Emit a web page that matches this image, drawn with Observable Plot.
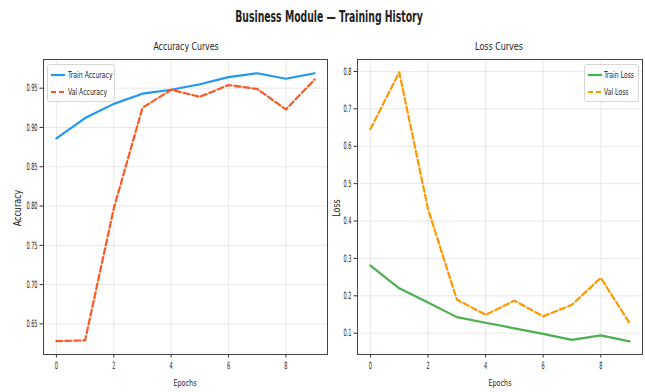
<!DOCTYPE html>
<html>
<head>
<meta charset="utf-8">
<script src="https://cdn.jsdelivr.net/npm/d3@7"></script>
<script src="https://cdn.jsdelivr.net/npm/@observablehq/plot@0.6"></script>
<style>
  html, body { margin: 0; padding: 0; background: #fff; }
  #fig { position: relative; width: 645px; height: 392px; overflow: hidden; font-family: "DejaVu Sans", sans-serif; color: #222; }
  .abs { position: absolute; white-space: nowrap; }
  .sq { display: inline-block; }
  .legend { position: absolute; background: rgba(255,255,255,0.85); border: 1px solid #d6d6d6; border-radius: 3px; font-size: 9px; color: #222; }
  .legend .row { position: absolute; left: 0; height: 12px; white-space: nowrap; }
  .legend svg { position: absolute; top: 0; }
  .legend span { position: absolute; top: 0; line-height: 12px; display: inline-block; transform-origin: left center; }
</style>
</head>
<body>
<div id="fig"></div>
<script>
// ---- data ----
const epochs = [0, 1, 2, 3, 4, 5, 6, 7, 8, 9];
const trainAcc = [0.886, 0.912, 0.930, 0.943, 0.948, 0.955, 0.964, 0.969, 0.962, 0.969];
const valAcc = [0.628, 0.629, 0.797, 0.925, 0.948, 0.939, 0.954, 0.949, 0.923, 0.961];
const trainLoss = [0.281, 0.220, 0.182, 0.143, 0.128, 0.113, 0.098, 0.082, 0.094, 0.078];
const valLoss = [0.646, 0.798, 0.432, 0.190, 0.149, 0.187, 0.145, 0.176, 0.248, 0.127];
const xTicks = [0, 2, 4, 6, 8];
const accTicks = [0.65, 0.70, 0.75, 0.80, 0.85, 0.90, 0.95];
const lossTicks = [0.1, 0.2, 0.3, 0.4, 0.5, 0.6, 0.7, 0.8];
const seriesNames = ["Train Accuracy", "Val Accuracy", "Train Loss", "Val Loss"];
const colors = ["#2196F3", "#FF5722", "#4CAF50", "#FF9800"];

const accData = epochs.map((e, i) => ({epoch: e, train: trainAcc[i], val: valAcc[i]}));
const lossData = epochs.map((e, i) => ({epoch: e, train: trainLoss[i], val: valLoss[i]}));

const fig = document.getElementById("fig");

function squishTexts(svg, sx) {
  svg.querySelectorAll("text").forEach(t => {
    const tr = t.getAttribute("transform") || "";
    t.setAttribute("transform", tr + ` scale(${sx},1)`);
    const x = t.getAttribute("x");
    if (x && !isNaN(+x) && +x !== 0) t.setAttribute("x", +x / sx);
  });
}

function panel({data, yDomain, yTicks, yFmt, c1, c2, width, ml, left}) {
  const p = Plot.plot({
    width, height: 392,
    marginLeft: ml, marginRight: 3, marginTop: 59, marginBottom: 38,
    style: "background: transparent; overflow: visible; position: absolute; top: 0; left: " + left + "px; font-family: 'DejaVu Sans', sans-serif;",
    x: {domain: [-0.45, 9.45]},
    y: {domain: yDomain},
    marks: [
      Plot.gridX(xTicks, {stroke: "#b0b0b0", strokeOpacity: 0.35, strokeWidth: 0.8}),
      Plot.gridY(yTicks, {stroke: "#b0b0b0", strokeOpacity: 0.35, strokeWidth: 0.8}),
      Plot.axisX(xTicks, {tickSize: 3.5, tickPadding: 4, fontSize: 10, stroke: "#333", fill: "#222", label: null}),
      Plot.axisY(yTicks, {tickSize: 3.5, tickPadding: 2.5, fontSize: 10, tickFormat: yFmt, stroke: "#333", fill: "#222", label: null}),
      Plot.line(data, {x: "epoch", y: "train", stroke: c1, strokeWidth: 2.2}),
      Plot.line(data, {x: "epoch", y: "val", stroke: c2, strokeWidth: 2.2, strokeDasharray: "6,3"}),
      Plot.frame({stroke: "#444", strokeWidth: 1})
    ]
  });
  squishTexts(p, 0.5);
  fig.appendChild(p);
}

panel({data: accData, yDomain: [0.611, 0.9865], yTicks: accTicks, yFmt: d3.format(".2f"),
  c1: colors[0], c2: colors[1], width: 330, ml: 43, left: 0});
panel({data: lossData, yDomain: [0.043, 0.832], yTicks: lossTicks, yFmt: d3.format(".1f"),
  c1: colors[2], c2: colors[3], width: 325, ml: 37, left: 320});

// ---- texts ----
function addText(txt, cx, cy, size, weight, sx, rotate) {
  const d = document.createElement("div");
  d.className = "abs";
  d.style.left = cx + "px";
  d.style.top = cy + "px";
  d.style.fontSize = size + "px";
  d.style.fontWeight = weight;
  d.style.lineHeight = "1";
  d.style.transform = `translate(-50%,-50%) ${rotate ? "rotate(-90deg)" : ""} scale(${sx},1)`;
  d.textContent = txt;
  fig.appendChild(d);
}
addText("Business Module — Training History", 329, 17, 15, "bold", 0.62);
addText("Accuracy Curves", 186, 47, 10, "normal", 0.78);
addText("Loss Curves", 499, 47, 10, "normal", 0.8);
addText("Epochs", 185, 383, 9.5, "normal", 0.68);
addText("Epochs", 500, 383, 9.5, "normal", 0.68);
addText("Accuracy", 18, 208, 10, "normal", 0.8, true);
addText("Loss", 337, 208, 10, "normal", 0.8, true);

// ---- legends ----
function legend(left, top, w, items) {
  const L = document.createElement("div");
  L.className = "legend";
  L.style.left = left + "px";
  L.style.top = top + "px";
  L.style.width = w + "px";
  L.style.height = "36px";
  items.forEach((it, i) => {
    const r = document.createElement("div");
    r.className = "row";
    r.style.top = (4 + i * 16.5) + "px";
    r.style.width = w + "px";
    r.innerHTML = `<svg width="16" height="12" style="left:2px"><line x1="1" x2="15" y1="6" y2="6" stroke="${it.color}" stroke-width="2.2" ${it.dash ? 'stroke-dasharray="5,3"' : ''}/></svg><span style="left:${it.tx}px; transform: scaleX(0.68)">${it.name}</span>`;
    L.appendChild(r);
  });
  fig.appendChild(L);
}
legend(47, 64, 66, [
  {name: seriesNames[0], color: colors[0], dash: false, tx: 20},
  {name: seriesNames[1], color: colors[1], dash: true, tx: 20}
]);
legend(584, 64, 53, [
  {name: seriesNames[2], color: colors[2], dash: false, tx: 19},
  {name: seriesNames[3], color: colors[3], dash: true, tx: 19}
]);
</script>
</body>
</html>
